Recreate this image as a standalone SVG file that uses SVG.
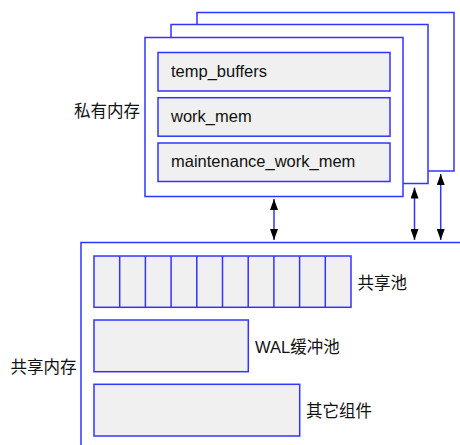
<svg xmlns="http://www.w3.org/2000/svg" width="460" height="445" viewBox="0 0 460 445">
<style>
.frame{fill:#fff;stroke:#3333ff;stroke-width:1.5}
.box{fill:#f0f0f0;stroke:#3333ff;stroke-width:1.5}
.div{stroke:#3333ff;stroke-width:1.5}
.t{font-family:"Liberation Sans","Noto Sans CJK SC",Arial,sans-serif;font-size:16.5px;fill:#111}
.c{font-family:"Noto Sans CJK SC","Liberation Sans",sans-serif;font-size:16.5px;fill:#111}
.ar{stroke:#3333ff;stroke-width:1.5;fill:none;marker-start:url(#ah);marker-end:url(#ah)}
</style>
<defs>
<marker id="ah" viewBox="0 0 11 8" refX="11" refY="4" markerWidth="11" markerHeight="8" markerUnits="userSpaceOnUse" orient="auto-start-reverse">
<path d="M0,0L11,4L0,8z" fill="#000"/>
</marker>
</defs>
<g id="private-memory">
<rect class="frame" x="197" y="12.5" width="257" height="158.5"/>
<rect class="frame" x="171" y="24.5" width="257" height="159"/>
<rect class="frame" x="145" y="37.5" width="258" height="159"/>
<text class="c" x="74" y="116.5">私有内存</text>
</g>
<g id="temp_buffers">
<rect class="box" x="158" y="52.5" width="232" height="38.5"/>
<text class="t" x="171" y="77">temp_buffers</text>
</g>
<g id="work_mem">
<rect class="box" x="158" y="97.7" width="232" height="38.5"/>
<text class="t" x="171" y="122">work_mem</text>
</g>
<g id="maintenance_work_mem">
<rect class="box" x="158" y="143" width="232" height="38.5"/>
<text class="t" x="171" y="167">maintenance_work_mem</text>
</g>
<g id="shared-memory">
<path class="frame" d="M81,446V242.5H461" fill="none"/>
<text class="c" x="10.5" y="372.5">共享内存</text>
</g>
<g id="shared-pool">
<rect class="box" x="94" y="256" width="257" height="51.3"/>
<path class="div" d="M119.7,256v51.3M145.4,256v51.3M171.1,256v51.3M196.8,256v51.3M222.5,256v51.3M248.2,256v51.3M273.9,256v51.3M299.6,256v51.3M325.3,256v51.3"/>
<text class="c" x="357.5" y="288.5">共享池</text>
</g>
<g id="wal-buffers">
<rect class="box" x="94" y="320" width="154.3" height="51.7"/>
<text class="t" x="255" y="352.5">WAL<tspan class="c">缓冲池</tspan></text>
</g>
<g id="other-components">
<rect class="box" x="94" y="384.3" width="205.7" height="51.7"/>
<text class="c" x="306" y="416.5">其它组件</text>
</g>
<g id="connectors">
<line class="ar" x1="274" y1="199" x2="274" y2="240"/>
<line class="ar" x1="414.5" y1="187.5" x2="414.5" y2="240"/>
<line class="ar" x1="440.7" y1="174" x2="440.7" y2="240"/>
</g>
</svg>
